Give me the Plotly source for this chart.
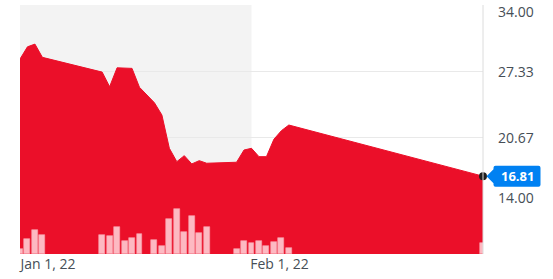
import plotly.graph_objects as go
import pandas as pd

# ---- data ----
dates = ["2022-01-01", "2022-01-02", "2022-01-03", "2022-01-04",
         "2022-01-12", "2022-01-13", "2022-01-14", "2022-01-15", "2022-01-16", "2022-01-17",
         "2022-01-19", "2022-01-20", "2022-01-21", "2022-01-22", "2022-01-23", "2022-01-24",
         "2022-01-25", "2022-01-26", "2022-01-30", "2022-01-31", "2022-02-01", "2022-02-02",
         "2022-02-03", "2022-02-04", "2022-02-05", "2022-02-06", "2022-03-04"]
prices = [28.58, 29.81, 30.08, 28.75,
          27.27, 25.80, 27.70, 27.67, 27.64, 25.74,
          24.19, 22.96, 19.61, 18.27, 18.87, 18.04,
          18.37, 18.11, 18.21, 19.44, 19.61, 18.77,
          18.77, 20.52, 21.38, 21.95, 16.81]
volumes = [100, 300, 486, 386,
           380, 366, 546, 266, 326, 400,
           280, 160, 706, 894, 446, 754,
           420, 534, 94, 254, 226, 266,
           160, 246, 320, 126, 220]  # thousands

y_ticks = [14.00, 20.67, 27.33, 34.00]
y_tick_labels = ["14.00", "20.67", "27.33", "34.00"]
x_ticks = ["2022-01-01", "2022-02-01"]
x_tick_labels = ["Jan 1, 22", "Feb 1, 22"]
shade_period = ["2022-01-01", "2022-02-01"]
x_range = ["2022-01-01", "2022-03-04"]

RED = "#eb0f29"
TEXT = "#464e56"
FONT = "Open Sans"

fig = go.Figure()

fig.add_trace(go.Scatter(
    x=dates, y=prices, mode="lines", fill="tozeroy",
    line=dict(color=RED, width=1), fillcolor=RED,
    hoverinfo="skip", showlegend=False,
))

fig.add_trace(go.Bar(
    x=dates, y=volumes, yaxis="y2",
    width=0.8 * 24 * 3600 * 1000,
    marker=dict(color="#fdb9c2", line=dict(color="#f7a0ad", width=0.6)),
    hoverinfo="skip", showlegend=False,
))

fig.add_trace(go.Scatter(
    x=[dates[-1]], y=[prices[-1]], mode="markers",
    marker=dict(color="#1e1e1e", size=8),
    cliponaxis=False, hoverinfo="skip", showlegend=False,
))

# shaded previous-month region
fig.add_shape(type="rect", xref="x", yref="paper",
              x0=shade_period[0], x1=shade_period[1], y0=0, y1=1,
              fillcolor="#f3f3f3", line=dict(width=0), layer="below")

# right edge line
fig.add_shape(type="line", xref="paper", yref="paper", x0=1, x1=1, y0=0, y1=1,
              line=dict(color="#dcdcdc", width=1), layer="above")

# price marker (blue tag)
fig.add_shape(type="path", xref="paper", yref="y",
              xsizemode="pixel", ysizemode="pixel",
              xanchor=1, yanchor=prices[-1],
              path="M 3.5 0 L 10.5 7 L 10.5 8.5 Q 10.5 10.5 12.5 10.5 L 55.5 10.5 Q 57.5 10.5 57.5 8.5 "
                   "L 57.5 -8.5 Q 57.5 -10.5 55.5 -10.5 L 12.5 -10.5 Q 10.5 -10.5 10.5 -8.5 L 10.5 -7 Z",
              fillcolor="#0081f2", line=dict(width=0), layer="above")

fig.add_annotation(xref="paper", yref="y", x=1, y=prices[-1],
                   xanchor="center", xshift=34, showarrow=False,
                   text="<b>%.2f</b>" % prices[-1],
                   font=dict(family=FONT, size=13, color="white"))

# y tick labels (shifted to stay in view like the original)
label_shift = {34.00: -6, 14.00: 7}
for v, t in zip(y_ticks, y_tick_labels):
    fig.add_annotation(xref="paper", yref="y", x=1, y=v, xanchor="left",
                       xshift=13, yshift=label_shift.get(v, 0), showarrow=False,
                       text=t, font=dict(family=FONT, size=14, color=TEXT))

fig.update_layout(
    width=553, height=279,
    margin=dict(l=20, r=70, t=5, b=25),
    paper_bgcolor="white", plot_bgcolor="white",
    font=dict(family=FONT, size=14, color=TEXT),
    bargap=0,
    xaxis=dict(type="date", range=x_range, tickvals=x_ticks, ticktext=x_tick_labels,
               showgrid=False, zeroline=False, showline=False, ticks="",
               ticklabelshift=28, tickfont=dict(family=FONT, size=14, color=TEXT),
               fixedrange=True),
    yaxis=dict(range=[8.99, 34.01], tickvals=y_ticks, showticklabels=False,
               showgrid=True, gridcolor="#e9e9e9", gridwidth=1,
               zeroline=False, showline=False, ticks="", fixedrange=True),
    yaxis2=dict(overlaying="y", range=[0, 4980], visible=False, fixedrange=True),
)

fig.write_html("out.html")
